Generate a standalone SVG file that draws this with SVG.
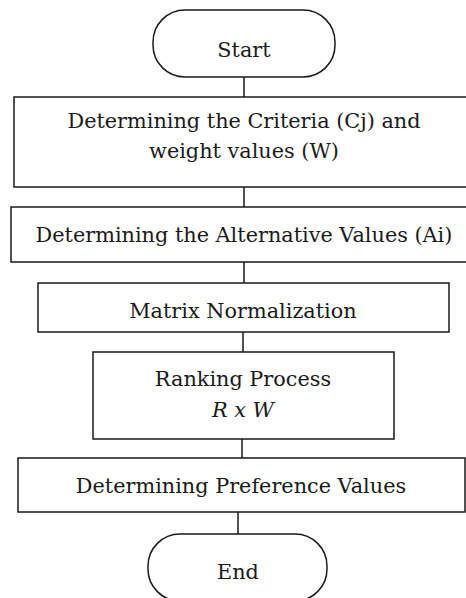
<svg xmlns="http://www.w3.org/2000/svg" width="466" height="598" viewBox="0 0 466 598">
<style>
.box{fill:#fff;stroke:#1a1a1a;stroke-width:1.5}
.conn{stroke:#1a1a1a;stroke-width:1.5;fill:none}
text{font-family:"DejaVu Serif","Liberation Serif",serif;font-size:20.8px;fill:#1a1a1a;text-anchor:middle}
.it{font-style:italic}
</style>
<rect width="466" height="598" fill="#fff"/>
<g id="connectors">
<line class="conn" x1="244" y1="77" x2="244" y2="97"/>
<line class="conn" x1="244" y1="187" x2="244" y2="207"/>
<line class="conn" x1="244" y1="262" x2="244" y2="283"/>
<line class="conn" x1="243" y1="332" x2="243" y2="352"/>
<line class="conn" x1="242" y1="439" x2="242" y2="458"/>
<line class="conn" x1="238" y1="512" x2="238" y2="534"/>
</g>
<g id="start">
<rect class="box" x="153" y="10" width="182" height="67" rx="32" ry="32"/>
<text x="244" y="57">Start</text>
</g>
<g id="criteria">
<rect class="box" x="14" y="97" width="460" height="90"/>
<text x="244" y="128">Determining the Criteria (Cj) and</text>
<text x="244" y="158">weight values (W)</text>
</g>
<g id="alternatives">
<rect class="box" x="11" y="207" width="466" height="55"/>
<text x="244" y="242">Determining the Alternative Values (Ai)</text>
</g>
<g id="normalization">
<rect class="box" x="38" y="283" width="411" height="49"/>
<text x="243" y="318">Matrix Normalization</text>
</g>
<g id="ranking">
<rect class="box" x="93" y="352" width="301" height="87"/>
<text x="243" y="386">Ranking Process</text>
<text class="it" x="243" y="417">R x W</text>
</g>
<g id="preference">
<rect class="box" x="18" y="458" width="447" height="54"/>
<text x="241" y="493">Determining Preference Values</text>
</g>
<g id="end">
<rect class="box" x="148" y="534" width="179" height="67" rx="32" ry="32"/>
<text x="238" y="579">End</text>
</g>
</svg>
